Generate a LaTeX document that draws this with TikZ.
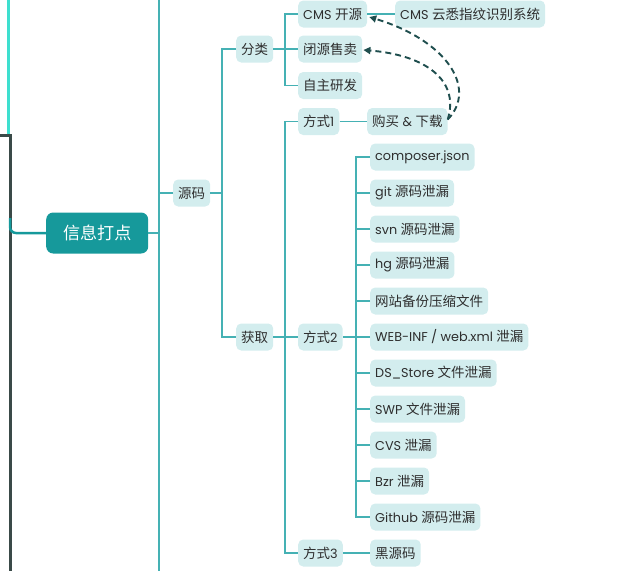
\documentclass[tikz,border=0pt]{standalone}
\usepackage{fontspec}
\setmainfont{Poppins}
\newfontfamily\zhfont[Scale=1.055]{Noto Sans CJK SC}
\newcommand\zh[1]{{\zhfont #1}}
\usetikzlibrary{arrows.meta}
\definecolor{leaf}{HTML}{D3EDEE}
\definecolor{branch}{HTML}{45B1B4}
\definecolor{rootfill}{HTML}{16999B}
\definecolor{ink}{HTML}{2E2E2E}
\definecolor{dashc}{HTML}{1F4E4E}
\definecolor{outerl}{HTML}{3A4A48}
\definecolor{cyanl}{HTML}{3EDFCF}
\begin{document}
\begin{tikzpicture}[x=1pt,y=-1pt,
  leafbox/.style={fill=leaf, rounded corners=5pt, anchor=west, minimum height=27pt,
    inner xsep=5pt, inner ysep=0pt, text=ink, font=\fontsize{12.8}{15}\selectfont},
  rootbox/.style={fill=rootfill, rounded corners=7pt, anchor=west, minimum height=41pt,
    minimum width=102pt, text=white, font=\fontsize{16.2}{20}\selectfont},
  link/.style={draw=branch, line width=1.7pt},
  jump/.style={draw=dashc, line width=1.9pt, dash pattern=on 6pt off 4pt,
    -{Triangle[length=7pt,width=7pt]}}]
\useasboundingbox (0,0) rectangle (617,571);

% outer frame lines of the parent map
\coordinate (ctop) at (8.5,0);
\coordinate (cbot) at (8.5,135);
\coordinate (gtop) at (0,135);
\coordinate (gbend) at (10,135);
\coordinate (gbot) at (10,571);
\draw[cyanl, line width=2.5pt] (ctop) -- (cbot);
\draw[outerl, line width=3pt] (gtop) -- (gbend) -- (gbot);

% root topic
\node[rootbox] (root) at (46,233) {\zh{信息打点}};
\coordinate (rstart) at (10,218);
\draw[rootfill, line width=2.5pt, rounded corners=6pt] (rstart) |- (root.west);

% trunk
\coordinate (trunkT) at (159,0);
\coordinate (trunkB) at (159,571);
\draw[link] (trunkT) -- (trunkB);
\draw[link] (root.east) -- (root.east -| trunkT);

% level 1
\node[leafbox] (ym) at (173,193) {\zh{源码}};
\draw[link] (ym.west) -- (ym.west -| trunkT);

% level 2
\node[leafbox] (fl) at (236,49) {\zh{分类}};
\node[leafbox] (hq) at (236,337) {\zh{获取}};
\coordinate (j1) at (222,0);
\draw[link] (ym.east) -- (ym.east -| j1);
\draw[link] (fl.west) -- (fl.west -| j1) -- (hq.west -| j1) -- (hq.west);

% classification
\node[leafbox] (cms) at (298,14) {CMS \zh{开源}};
\node[leafbox] (bys) at (298,49) {\zh{闭源售卖}};
\node[leafbox] (zz) at (298,85.5) {\zh{自主研发}};
\node[leafbox] (yx) at (395,14) {CMS \zh{云悉指纹识别系统}};
\coordinate (j2) at (285,0);
\draw[link] (cms.west) -- (cms.west -| j2) -- (zz.west -| j2) -- (zz.west);
\draw[link] (fl.east) -- (bys.west);
\draw[link] (cms.east) -- (yx.west);

% acquisition
\node[leafbox] (fs1) at (298,121.5) {\zh{方式}1};
\node[leafbox] (fs2) at (298,337) {\zh{方式}2};
\node[leafbox] (fs3) at (298,553) {\zh{方式}3};
\draw[link] (fs1.west) -- (fs1.west -| j2) -- (fs3.west -| j2) -- (fs3.west);
\draw[link] (hq.east) -- (fs2.west);

\node[leafbox] (gm) at (367,121.5) {\zh{购买} \& \zh{下载}};
\draw[link] (fs1.east) -- (gm.west);

\node[leafbox] (hym) at (370,553) {\zh{黑源码}};
\draw[link] (fs3.east) -- (hym.west);

% leak sources
\node[leafbox] (c1) at (370,157) {composer.json};
\node[leafbox] (c2) at (370,193) {git \zh{源码泄漏}};
\node[leafbox] (c3) at (370,229) {svn \zh{源码泄漏}};
\node[leafbox] (c4) at (370,265) {hg \zh{源码泄漏}};
\node[leafbox] (c5) at (370,301) {\zh{网站备份压缩文件}};
\node[leafbox] (c6) at (370,337) {WEB-INF / web.xml \zh{泄漏}};
\node[leafbox] (c7) at (370,373) {DS\_Store \zh{文件泄漏}};
\node[leafbox] (c8) at (370,409) {SWP \zh{文件泄漏}};
\node[leafbox] (c9) at (370,445) {CVS \zh{泄漏}};
\node[leafbox] (c10) at (370,481) {Bzr \zh{泄漏}};
\node[leafbox] (c11) at (370,517) {Github \zh{源码泄漏}};
\coordinate (j3) at (356,0);
\draw[link] (c1.west) -- (c1.west -| j3) -- (c11.west -| j3) -- (c11.west);
\foreach \k in {2,...,10} {
  \draw[link] (c\k.west) -- (c\k.west -| j3);
}
\draw[link] (fs2.east) -- (c6.west);

% cross links
\draw[jump] ([yshift=2pt]gm.east) .. controls (478,88) and (446,40) .. ([xshift=2pt,yshift=-3pt]cms.east);
\draw[jump] ([yshift=2pt]gm.east) .. controls (460,80) and (425,55) .. ([xshift=1pt,yshift=-1pt]bys.east);
\end{tikzpicture}
\end{document}
